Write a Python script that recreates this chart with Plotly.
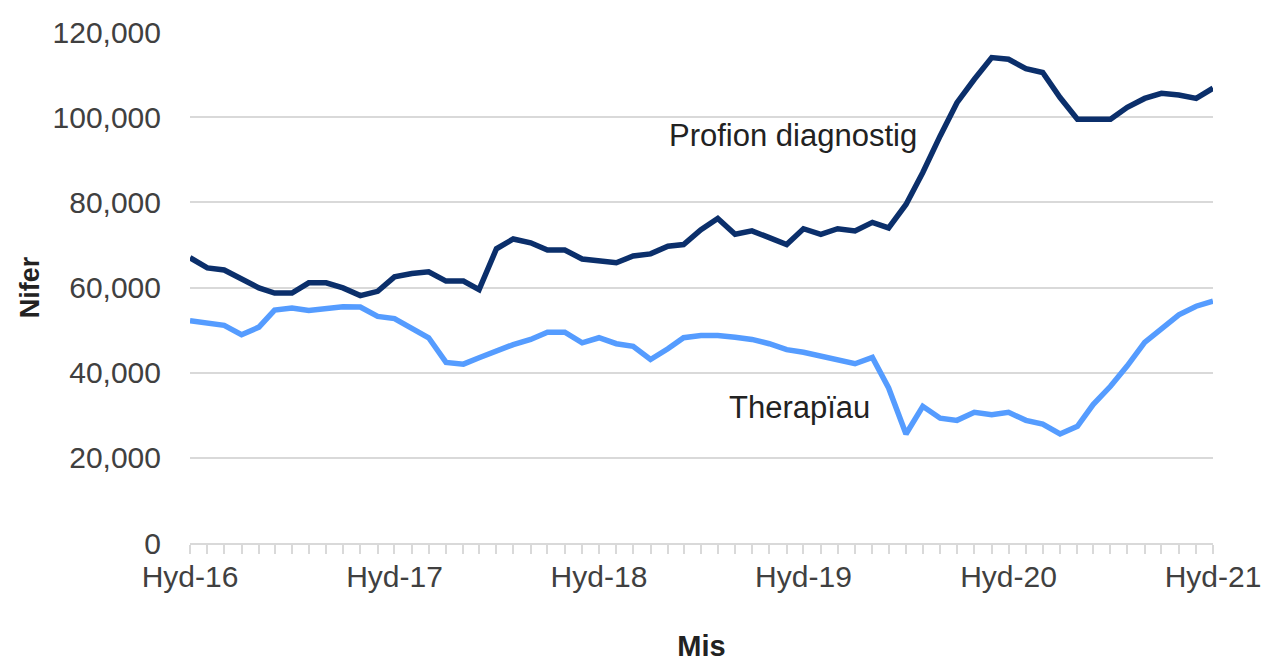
import pandas as pd
import plotly.graph_objects as go

# Monthly data Oct 2016 – Oct 2021
months = pd.date_range("2016-10-01", periods=61, freq="MS")

diagnostig = [
    67.0, 64.6, 64.1, 62.0, 59.9, 58.7, 58.7, 61.1, 61.1, 59.9,
    58.1, 59.1, 62.5, 63.3, 63.7, 61.5, 61.5, 59.5, 69.1, 71.4,
    70.5, 68.8, 68.8, 66.7, 66.2, 65.8, 67.4, 67.9, 69.7, 70.1,
    73.6, 76.2, 72.5, 73.3, 71.7, 70.1, 73.8, 72.5, 73.8, 73.3,
    75.3, 74.0, 79.5, 87.0, 95.6, 103.4, 108.9, 114.0, 113.6, 111.4,
    110.5, 104.6, 99.5, 99.5, 99.5, 102.3, 104.4, 105.6, 105.2, 104.4,
    106.8,
]
therapiau = [
    52.2, 51.7, 51.1, 48.9, 50.7, 54.7, 55.2, 54.6, 55.1, 55.5,
    55.4, 53.2, 52.7, 50.5, 48.2, 42.4, 42.0, 43.5, 45.2, 46.6,
    47.8, 49.5, 49.5, 47.0, 48.2, 46.8, 46.2, 43.1, 45.6, 48.2,
    48.7, 48.7, 48.3, 47.8, 46.8, 45.4, 44.8, 43.8, 43.1, 42.1,
    43.6, 36.4, 25.6, 32.1, 29.3, 28.8, 30.7, 30.1, 30.7, 28.8,
    27.9, 25.6, 27.4, 32.5, 36.8, 41.6, 47.1, 50.3, 53.6, 55.6,
    56.8,
]
diagnostig = [v * 1000 for v in diagnostig]
therapiau = [v * 1000 for v in therapiau]

tick_labels = ["Hyd-16", "Hyd-17", "Hyd-18", "Hyd-19", "Hyd-20", "Hyd-21"]
tick_dates = pd.date_range("2016-10-01", periods=6, freq="12MS")

series_names = ["Profion diagnostig", "Therapïau"]
colors = ["#0B2F6B", "#559CFF"]

FONT = "Liberation Sans, Arial, sans-serif"

fig = go.Figure()
fig.add_trace(go.Scatter(x=months, y=diagnostig, mode="lines", name=series_names[0],
                         line=dict(color=colors[0], width=5.5)))
fig.add_trace(go.Scatter(x=months, y=therapiau, mode="lines", name=series_names[1],
                         line=dict(color=colors[1], width=5.5)))

fig.add_annotation(x=pd.Timestamp("2019-01-31"), y=95800, text=series_names[0],
                   showarrow=False, xanchor="left", yanchor="middle",
                   font=dict(family=FONT, size=31, color="#222222"))
fig.add_annotation(x=pd.Timestamp("2019-05-18"), y=31800, text=series_names[1],
                   showarrow=False, xanchor="left", yanchor="middle",
                   font=dict(family=FONT, size=31, color="#222222"))

fig.update_layout(
    width=1273, height=662,
    margin=dict(l=190, r=60, t=32, b=119),
    plot_bgcolor="white", paper_bgcolor="white",
    showlegend=False,
    font=dict(family=FONT, size=30, color="#404040"),
)
fig.update_xaxes(
    range=[months[0], months[-1]],
    tickvals=list(tick_dates), ticktext=tick_labels,
    showgrid=False, showline=True, linecolor="#D9D9D9", linewidth=2,
    ticks="outside", ticklen=9, tickcolor="#D9D9D9", tickwidth=2,
    minor=dict(dtick="M1", ticks="outside", ticklen=9, tickcolor="#D9D9D9", tickwidth=2),
    tickfont=dict(size=30), ticklabelstandoff=-3,
    title=dict(text="<b>Mis</b>", font=dict(size=29, color="#222222"), standoff=54),
    zeroline=False, automargin=False,
)
fig.update_yaxes(
    range=[0, 120000], dtick=20000, tickformat=",",
    showgrid=True, gridcolor="#D9D9D9", gridwidth=2,
    showline=False, zeroline=False,
    ticks="outside", ticklen=22, tickcolor="rgba(0,0,0,0)",
    tickfont=dict(size=30),
    title=dict(text="<b>Nifer</b>", font=dict(size=27, color="#222222"), standoff=5),
    automargin=False,
)

fig.write_html(
    "out.html",
    config={"displayModeBar": False},
    post_script="document.documentElement.style.margin='0';document.body.style.margin='0';"
                "document.body.style.padding='0';document.body.style.overflow='hidden';",
)
